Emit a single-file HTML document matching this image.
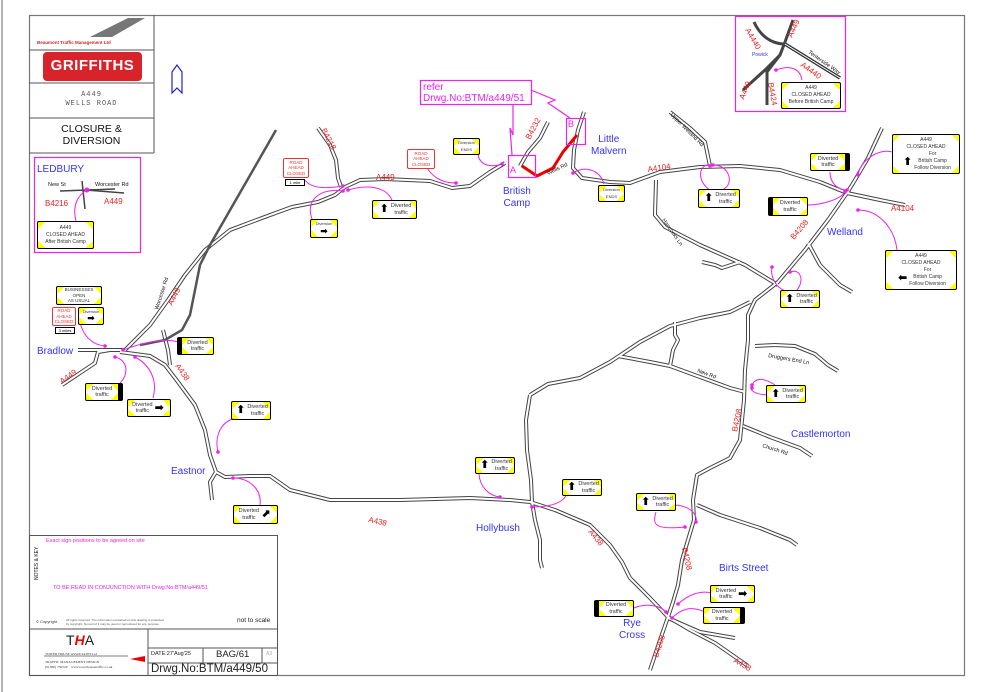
<!DOCTYPE html>
<html><head><meta charset="utf-8"><style>
html,body{margin:0;padding:0;background:#fff;}
#w{position:relative;width:990px;height:692px;overflow:hidden;font-family:"Liberation Sans",sans-serif;}
svg{position:absolute;left:0;top:0;}
.s{position:absolute;box-sizing:border-box;border:1.5px solid #000;border-radius:2px;background:
linear-gradient(135deg,#ff0 5px,transparent 5px),linear-gradient(225deg,#ff0 5px,transparent 5px),
linear-gradient(45deg,#ff0 5px,transparent 5px),linear-gradient(315deg,#ff0 5px,transparent 5px),#fff;
font-size:5.5px;color:#333;text-align:center;line-height:6.5px;display:flex;align-items:center;justify-content:center;}
.s b{font-family:"DejaVu Sans",sans-serif;font-size:11px;color:#000;margin:0 2px;}
.r{position:absolute;box-sizing:border-box;border:1.5px solid #e33;border-radius:2px;background:#fff;color:#e33;font-size:4.5px;text-align:center;line-height:5.5px;display:flex;align-items:center;justify-content:center;}
.m{position:absolute;box-sizing:border-box;border:1.5px solid #000;background:#fff;font-size:4px;text-align:center;line-height:5px;}
.t{position:absolute;white-space:nowrap;}
.b{color:#33f;font-size:10px;}
</style></head><body><div id="w">
<svg width="990" height="692" viewBox="0 0 990 692">
<defs>
<path id="r1" d="M62,385 L95,363 L98,352 L110,350 L125,350 L150,325 L168,300 L185,275 L205,250 L230,230 L262,218 L292,207 L318,202 L335,195 L345,187 L360,180 L385,179 L430,181 L452,188 L470,186 L490,172 L505,163"/>
<path id="r2" d="M78,350 L120,350"/>
<path id="r3" d="M120,352 L150,356 L165,365 L178,382 L195,405 L205,430 L210,455 L216,472 L225,477 L250,476 L270,476 L290,490 L330,500 L400,500 L470,498 L510,500 L530,502 L555,510 L590,525 L610,545 L622,562 L630,578 L650,598 L668,617 L690,630 L715,643 L748,666"/>
<path id="r4" d="M216,472 L210,482 L212,500"/>
<path id="r5" d="M163,330 L168,350 L170,365"/>
<path id="r6" d="M520,166 L528,152 L540,138 L548,122"/>
<path id="r7" d="M584,112 L578,130 L574,150 L573,168 L582,178 L610,182 L630,183 L660,172 L700,167 L740,166 L780,170 L820,182 L847,193 L880,200 L905,205"/>
<path id="r8" d="M670,112 L690,128 L705,142 L710,166"/>
<path id="r9" d="M656,180 L655,215 L665,227 L700,245 L745,265 L778,285"/>
<path id="r10" d="M882,128 L868,158 L855,180 L847,193 L828,220 L805,250 L778,282 L755,300 L748,315 L748,340 L745,370 L744,400 L740,440 L730,458 L710,468 L697,475 L693,500 L694,520 L688,540 L682,560 L678,585 L673,602 L668,617 L660,640 L650,670"/>
<path id="r11" d="M808,243 L820,265 L840,285 L852,292"/>
<path id="r12" d="M530,395 L548,384 L580,378 L610,362 L640,342 L670,326 L700,318 L730,312 L750,302"/>
<path id="r13" d="M618,356 L650,362 L670,366 L700,377 L730,388 L745,392"/>
<path id="r14" d="M675,322 L675,335 L678,340 L673,350 L670,366"/>
<path id="r15" d="M755,346 L775,345 L795,346 L815,354 L828,365 L838,371"/>
<path id="r16" d="M743,426 L770,437 L800,448 L812,456"/>
<path id="r17" d="M530,395 L526,420 L527,450 L531,480 L532,502 L535,520 L540,540 L540,560 L542,568"/>
<path id="r18" d="M318,128 L330,145 L336,160 L338,178 L341,187"/>
<path id="r19" d="M697,505 L720,515 L760,528 L790,540 L797,545"/>
<path id="r20" d="M702,262 L715,265 L722,268 L740,262"/>
<path id="r21" d="M668,618 L700,632 L735,638"/>
</defs>
<g fill="none" stroke="#444" stroke-width="4" stroke-linejoin="round">
<use href="#r1"/><use href="#r2"/><use href="#r3"/><use href="#r4"/><use href="#r5"/><use href="#r6"/><use href="#r7"/><use href="#r8"/><use href="#r9"/><use href="#r10"/><use href="#r11"/><use href="#r12"/><use href="#r13"/><use href="#r14"/><use href="#r15"/><use href="#r16"/><use href="#r17"/><use href="#r18"/><use href="#r19"/><use href="#r20"/><use href="#r21"/>
</g>
<g fill="none" stroke="#fff" stroke-width="2" stroke-linejoin="round">
<use href="#r1"/><use href="#r2"/><use href="#r3"/><use href="#r4"/><use href="#r5"/><use href="#r6"/><use href="#r7"/><use href="#r8"/><use href="#r9"/><use href="#r10"/><use href="#r11"/><use href="#r12"/><use href="#r13"/><use href="#r14"/><use href="#r15"/><use href="#r16"/><use href="#r17"/><use href="#r18"/><use href="#r19"/><use href="#r20"/><use href="#r21"/>
</g>
<path d="M276,130 L210,245 L200,265 L195,290 L190,315 L182,330 L165,340 L140,345" fill="none" stroke="#555" stroke-width="2.5"/>
<path d="M522,166 L537,176 L553,168 L563,152 L577,135" fill="none" stroke="#e00" stroke-width="3"/>
<line x1="2" y1="0" x2="2" y2="692" stroke="#999" stroke-width="1.5"/>
<rect x="29.5" y="15.5" width="935" height="660" fill="none" stroke="#777" stroke-width="1.2"/>
<g stroke="#555" stroke-width="1" fill="none">
<line x1="154" y1="15" x2="154" y2="153"/><line x1="29" y1="50" x2="154" y2="50"/><line x1="29" y1="83" x2="154" y2="83"/><line x1="29" y1="118" x2="154" y2="118"/><line x1="29" y1="153" x2="154" y2="153"/>
<rect x="29.5" y="535.5" width="248" height="140"/><line x1="29" y1="629" x2="277" y2="629"/><line x1="148" y1="629" x2="148" y2="675"/>
<line x1="148" y1="648" x2="277" y2="648"/><line x1="148" y1="663" x2="277" y2="663"/><line x1="203" y1="648" x2="203" y2="663"/><line x1="262" y1="648" x2="262" y2="663"/>
</g>
<path d="M90,37 L128,18 L145,18 L112,37 Z" fill="#777"/>
<path d="M120,33 L143,24 L146,25 L124,34Z" fill="#fff"/>
<rect x="43" y="52" width="99" height="29" rx="4" fill="#d9232a"/>
<path d="M172,72 L172,93 L177,88 L182,93 L182,72 L177,65 Z" fill="#fff" stroke="#22c" stroke-width="1.2"/>
<g fill="none" stroke="#e2e" stroke-width="1.2">
<rect x="34.5" y="157.5" width="106" height="95"/>
<rect x="735.5" y="16.5" width="110" height="95"/>
<rect x="420.5" y="80.5" width="111" height="24"/>
<rect x="508.5" y="155.5" width="27" height="22"/>
<rect x="566.5" y="118.5" width="19" height="26"/>
<path d="M513,105 L513,135 L510,128 L512,155"/>
<path d="M531,90 L555,100 L548,103 L570,118"/>
</g>
<g stroke="#444" stroke-width="1.5" fill="none"><path d="M60,191 L115,189"/><path d="M82,181 L85,209"/><path d="M86,190 L124,193"/></g>
<circle cx="87" cy="190" r="2.5" fill="#e2e"/>
<path d="M76,221 C72,205 78,195 87,190" fill="none" stroke="#e2e" stroke-width="1"/>
<g fill="none" stroke="#444" stroke-width="3"><path d="M754,22 C760,35 770,43 783,44"/><path d="M793,20 L785,42"/><path d="M785,42 L780,55 L765,70 L743,90"/><path d="M780,55 L767,72 L767,105"/></g>
<path d="M785,44 L840,78" stroke="#333" stroke-width="3.5"/>
<path d="M785,44 L840,78" stroke="#fff" stroke-width="1"/>
<path d="M802,80 C800,68 790,65 776,70" fill="none" stroke="#e2e" stroke-width="1"/><circle cx="776" cy="70" r="1.8" fill="#e2e"/>
<g fill="none" stroke="#e2e" stroke-width="1">
<path d="M305,180 C312,190 330,188 343,186"/>
<path d="M392,200 C385,185 365,185 348,190"/>
<path d="M312,219 C305,200 320,188 343,191"/>
<path d="M427,168 C435,180 445,183 456,183"/>
<path d="M478,155 C480,165 490,168 502,164"/>
<path d="M604,184 C600,170 585,165 573,173"/>
<path d="M710,190 C695,180 700,163 710,165 M713,165 C730,165 735,185 722,190"/>
<path d="M830,172 C830,185 840,190 847,190"/>
<path d="M808,205 C820,205 840,200 845,192"/>
<path d="M892,152 C880,148 860,160 858,175"/>
<path d="M897,250 C895,230 880,210 858,210"/>
<path d="M790,292 C775,290 770,275 772,267 M797,290 C805,280 800,268 790,272"/>
<path d="M80,323 C85,340 95,345 105,346"/>
<path d="M178,342 C165,338 145,342 123,350"/>
<path d="M118,385 C130,375 128,360 115,357"/>
<path d="M153,398 C158,380 150,365 135,357"/>
<path d="M232,419 C218,425 215,440 218,452"/>
<path d="M260,505 C262,490 250,478 233,478"/>
<path d="M479,474 C480,488 490,496 500,497"/>
<path d="M566,496 C560,505 545,507 532,507"/>
<path d="M656,512 C652,525 655,530 685,527"/>
<path d="M673,505 C690,505 698,515 696,522"/>
<path d="M712,593 C700,590 688,595 678,604"/>
<path d="M705,612 C690,605 680,610 672,618"/>
<path d="M634,608 C645,603 660,605 666,612"/>
<path d="M770,395 C755,395 748,390 752,385 M775,385 C760,375 752,380 752,388"/>
</g>
<g fill="#e2e">
<circle cx="343" cy="186" r="1.8"/><circle cx="348" cy="190" r="1.8"/><circle cx="343" cy="191" r="1.8"/><circle cx="456" cy="183" r="1.8"/><circle cx="502" cy="164" r="1.8"/><circle cx="573" cy="173" r="1.8"/><circle cx="710" cy="166" r="1.8"/><circle cx="713" cy="165" r="1.8"/><circle cx="847" cy="190" r="1.8"/><circle cx="845" cy="192" r="1.8"/><circle cx="858" cy="175" r="1.8"/><circle cx="858" cy="210" r="1.8"/><circle cx="772" cy="267" r="1.8"/><circle cx="790" cy="272" r="1.8"/><circle cx="105" cy="346" r="1.8"/><circle cx="123" cy="350" r="1.8"/><circle cx="115" cy="357" r="1.8"/><circle cx="135" cy="357" r="1.8"/><circle cx="218" cy="452" r="1.8"/><circle cx="233" cy="478" r="1.8"/><circle cx="500" cy="497" r="1.8"/><circle cx="532" cy="507" r="1.8"/><circle cx="685" cy="527" r="1.8"/><circle cx="696" cy="522" r="1.8"/><circle cx="678" cy="604" r="1.8"/><circle cx="672" cy="618" r="1.8"/><circle cx="666" cy="612" r="1.8"/><circle cx="752" cy="385" r="1.8"/><circle cx="752" cy="388" r="1.8"/>
</g>
<path d="M130,659 L145,656 L145,662 Z" fill="#e00"/>
<line x1="44" y1="656" x2="128" y2="656" stroke="#555" stroke-width="0.8"/>
<g fill="#e22" font-family="Liberation Sans" font-size="8">
<text x="376" y="180">A449</text>
<text x="648" y="172" transform="rotate(-8 648 172)">A4104</text>
<text x="891" y="211">A4104</text>
<text x="794" y="240" transform="rotate(-50 794 240)">B4208</text>
<text x="172" y="306" transform="rotate(-62 172 306)">A449</text>
<text x="62" y="384" transform="rotate(-35 62 384)">A449</text>
<text x="175" y="366" transform="rotate(55 175 366)">A438</text>
<text x="368" y="522" transform="rotate(12 368 522)">A438</text>
<text x="588" y="532" transform="rotate(50 588 532)">A438</text>
<text x="733" y="662" transform="rotate(30 733 662)">A438</text>
<text x="737" y="432" transform="rotate(-78 737 432)">B4208</text>
<text x="682" y="548" transform="rotate(78 682 548)">B4208</text>
<text x="658" y="658" transform="rotate(-72 658 658)">B4208</text>
<text x="321" y="130" transform="rotate(62 321 130)">B4218</text>
<text x="530" y="140" transform="rotate(-62 530 140)">B4232</text>
<text x="45" y="206">B4216</text>
<text x="104" y="204">A449</text>
<text x="745" y="30" transform="rotate(60 745 30)">A4440</text>
<text x="792" y="38" transform="rotate(-65 792 38)">A449</text>
<text x="800" y="66" transform="rotate(35 800 66)">A4440</text>
<text x="744" y="100" transform="rotate(-68 744 100)">A449</text>
<text x="768" y="83" transform="rotate(80 768 83)">B4424</text>
</g>
<g fill="#111" font-family="Liberation Sans" font-size="5.5">
<text x="548" y="175" transform="rotate(-25 548 175)">Wells Rd</text>
<text x="670" y="115" transform="rotate(45 670 115)">Upper Welland Rd</text>
<text x="662" y="220" transform="rotate(55 662 220)">Hancocks Ln</text>
<text x="697" y="372" transform="rotate(20 697 372)">New Rd</text>
<text x="768" y="357" transform="rotate(10 768 357)">Druggers End Ln</text>
<text x="762" y="447" transform="rotate(18 762 447)">Church Rd</text>
<text x="158" y="310" transform="rotate(-72 158 310)">Worcester Rd</text>
<text x="808" y="53" transform="rotate(35 808 53)">Tenterside Way</text>
<text x="48" y="186">New St</text><text x="95" y="186">Worcester Rd</text>
<text x="38" y="580" transform="rotate(-90 38 580)" font-size="5">NOTES &amp; KEY</text>
</g>
</svg>

<div class="t" style="left:37px;top:40px;font-size:4.5px;color:#d22;font-weight:bold">Beaumont Traffic Management Ltd</div>
<div class="t" style="left:43px;top:57px;width:99px;text-align:center;font-size:15px;font-weight:bold;color:#fff;letter-spacing:0.5px">GRIFFITHS</div>
<div class="t" style="left:29px;top:91px;width:125px;text-align:center;font-size:7px;color:#555;font-family:'Liberation Mono',monospace;line-height:9px;letter-spacing:1px">A449<br>WELLS ROAD</div>
<div class="t" style="left:29px;top:124px;width:125px;text-align:center;font-size:10.5px;color:#111;line-height:11.5px">CLOSURE &amp;<br>DIVERSION</div>
<div class="t b" style="left:37px;top:164px;font-size:10px">LEDBURY</div>
<div class="t" style="left:423px;top:82px;font-size:10px;color:#e2e;line-height:11px">refer<br>Drwg.No:BTM/a449/51</div>
<div class="t" style="left:510px;top:165px;font-size:9px;color:#e2e">A</div>
<div class="t" style="left:568px;top:119px;font-size:9px;color:#e2e">B</div>
<div class="t" style="left:752px;top:52px;font-size:5px;color:#33f">Powick</div>

<div class="t b" style="left:37px;top:346px">Bradlow</div>
<div class="t b" style="left:171px;top:466px">Eastnor</div>
<div class="t b" style="left:503px;top:186px;text-align:center;line-height:12px">British<br>Camp</div>
<div class="t b" style="left:591px;top:134px;text-align:center;line-height:12px">Little<br>Malvern</div>
<div class="t b" style="left:827px;top:227px">Welland</div>
<div class="t b" style="left:791px;top:429px">Castlemorton</div>
<div class="t b" style="left:476px;top:523px">Hollybush</div>
<div class="t b" style="left:719px;top:563px">Birts Street</div>
<div class="t b" style="left:619px;top:618px;text-align:center;line-height:12px">Rye<br>Cross</div>

<div class="t" style="left:46px;top:538px;font-size:5.5px;color:#e2e">Exact sign positions to be agreed on site</div>
<div class="t" style="left:53px;top:585px;font-size:5.5px;color:#e2e">TO BE READ IN CONJUNCTION WITH Drwg.No:BTM/a449/51</div>
<div class="t" style="left:237px;top:617px;font-size:6.5px;color:#222">not to scale</div>
<div class="t" style="left:36px;top:619px;font-size:4px;color:#333">© Copyright</div>
<div class="t" style="left:66px;top:618px;font-size:3px;color:#555;line-height:4px">All rights reserved. The information contained on this drawing is protected<br>by copyright. No part of it may be used or reproduced for any purpose.</div>
<div class="t" style="left:66px;top:632px;font-size:14px;color:#222"><span>T</span><span style="color:#e00;font-style:italic;font-weight:bold">H</span><span>A</span></div>
<div class="t" style="left:45px;top:652px;font-size:3.5px;color:#333;font-family:'Liberation Serif',serif">TOWER HOUSE ASSOCIATES Ltd</div>
<div class="t" style="left:45px;top:660px;font-size:3.5px;color:#333;font-family:'Liberation Serif',serif;line-height:5px">TRAFFIC MANAGEMENT DESIGN<br>(01386) 750520 &nbsp;&nbsp; www.towerhousetraffic.co.uk</div>
<div class="t" style="left:151px;top:651px;font-size:5.5px;color:#222">DATE:27'Aug'25</div>
<div class="t" style="left:216px;top:649px;font-size:9.5px;color:#222">BAG/61</div>
<div class="t" style="left:266px;top:651px;font-size:5px;color:#aaa">A3</div>
<div class="t" style="left:151px;top:663px;font-size:11.5px;color:#222">Drwg.No:BTM/a449/50</div>

<div class="s" style="left:37px;top:221px;width:57px;height:28px;line-height:7px;font-size:5px">A449<br>CLOSED AHEAD<br>After British Camp</div>
<div class="s" style="left:781px;top:82px;width:60px;height:27px;line-height:7px;font-size:5px">A449<br>CLOSED AHEAD<br>Before British Camp</div>
<div class="s" style="left:892px;top:134px;width:68px;height:40px;line-height:7px;font-size:5px;flex-direction:column">A449<br>CLOSED AHEAD<span style="display:flex;align-items:center"><b>⬆</b>For<br>British Camp<br>Follow Diversion</span></div>
<div class="s" style="left:885px;top:250px;width:72px;height:40px;line-height:7px;font-size:5px;flex-direction:column">A449<br>CLOSED AHEAD<span style="display:flex;align-items:center"><b>⬅</b>For<br>British Camp<br>Follow Diversion</span></div>

<div class="r" style="left:283px;top:158px;width:26px;height:20px">ROAD<br>AHEAD<br>CLOSED</div>
<div class="m" style="left:285px;top:179px;width:20px;height:7px">1 mile</div>
<div class="r" style="left:407px;top:149px;width:28px;height:20px">ROAD<br>AHEAD<br>CLOSED</div>
<div class="r" style="left:52px;top:307px;width:24px;height:19px">ROAD<br>AHEAD<br>CLOSED</div>
<div class="m" style="left:55px;top:327px;width:20px;height:7px">3 miles</div>
<div class="s" style="left:56px;top:286px;width:46px;height:19px;font-size:4.5px;line-height:5.5px">BUSINESSES<br>OPEN<br>AS USUAL</div>
<div class="s" style="left:78px;top:307px;width:26px;height:18px;font-size:4px;flex-direction:column">Diversion<b style="font-size:9px;line-height:8px">➡</b></div>
<div class="s" style="left:310px;top:219px;width:28px;height:19px;font-size:4px;flex-direction:column">Diversion<b style="font-size:9px;line-height:8px">➡</b></div>
<div class="s" style="left:453px;top:138px;width:27px;height:17px;font-size:4px">Diversion<br>ENDS</div>
<div class="s" style="left:598px;top:185px;width:27px;height:17px;font-size:4px">Diversion<br>ENDS</div>

<div class="s" style="left:372px;top:200px;width:45px;height:19px"><b>⬆</b>Diverted<br>traffic</div>
<div class="s" style="left:698px;top:189px;width:42px;height:19px"><b>⬆</b>Diverted<br>traffic</div>
<div class="s" style="left:780px;top:290px;width:40px;height:18px"><b>⬆</b>Diverted<br>traffic</div>
<div class="s" style="left:766px;top:385px;width:40px;height:18px"><b>⬆</b>Diverted<br>traffic</div>
<div class="s" style="left:231px;top:401px;width:40px;height:19px"><b>⬆</b>Diverted<br>traffic</div>
<div class="s" style="left:475px;top:457px;width:40px;height:17px"><b>⬆</b>Diverted<br>traffic</div>
<div class="s" style="left:562px;top:479px;width:40px;height:17px"><b>⬆</b>Diverted<br>traffic</div>
<div class="s" style="left:636px;top:493px;width:40px;height:18px"><b>⬆</b>Diverted<br>traffic</div>
<div class="s" style="left:127px;top:399px;width:44px;height:18px">Diverted<br>traffic<b>➡</b></div>
<div class="s" style="left:710px;top:585px;width:45px;height:18px">Diverted<br>traffic<b>➡</b></div>
<div class="s" style="left:233px;top:505px;width:45px;height:19px">Diverted<br>traffic<b>⬈</b></div>
<div class="s" style="left:810px;top:153px;width:40px;height:18px;border-right:5px solid #000">Diverted<br>traffic</div>
<div class="s" style="left:85px;top:383px;width:38px;height:18px;border-right:5px solid #000">Diverted<br>traffic</div>
<div class="s" style="left:703px;top:607px;width:42px;height:17px;border-right:5px solid #000">Diverted<br>traffic</div>
<div class="s" style="left:768px;top:197px;width:40px;height:19px;border-left:5px solid #000">Diverted<br>traffic</div>
<div class="s" style="left:177px;top:337px;width:37px;height:18px;border-left:5px solid #000">Diverted<br>traffic</div>
<div class="s" style="left:594px;top:600px;width:40px;height:17px;border-left:5px solid #000">Diverted<br>traffic</div>
</div></body></html>
